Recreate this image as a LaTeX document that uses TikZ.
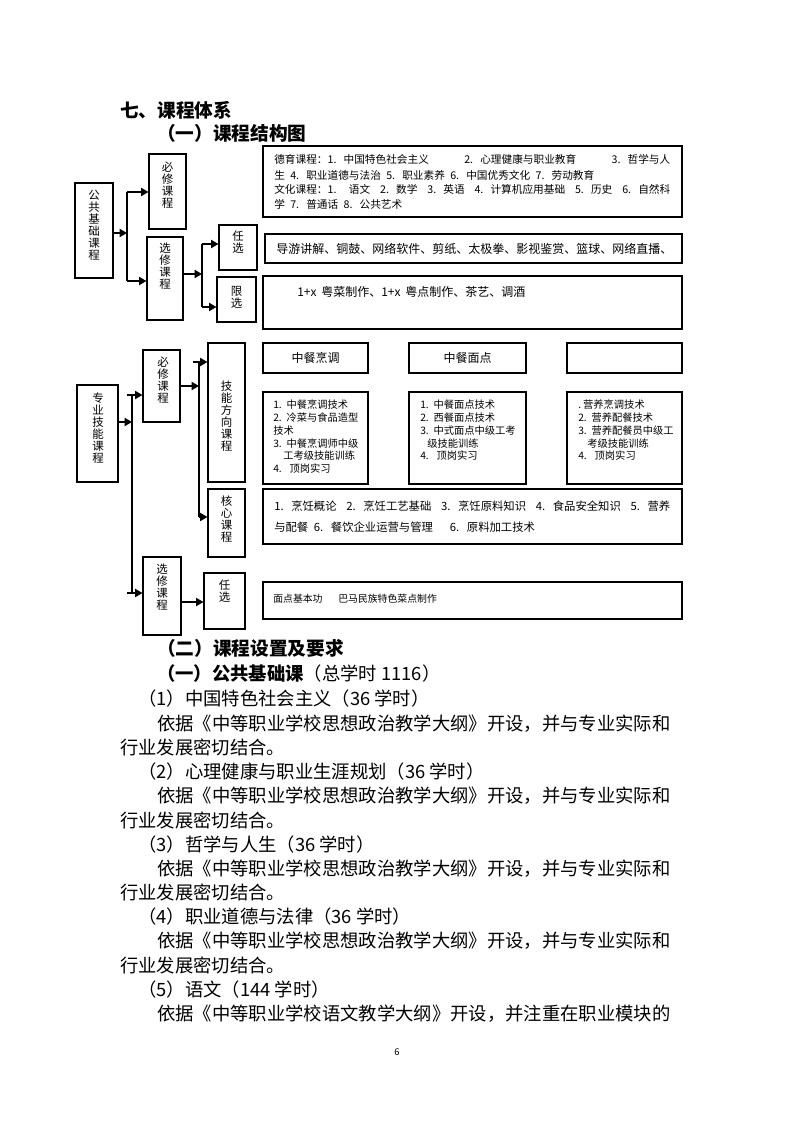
\documentclass[tikz,border=0pt]{standalone}
\usepackage{fontspec}
\setmainfont{Noto Sans CJK SC}
\usetikzlibrary{arrows.meta}
\newcommand\numlab[1]{\makebox[1.5em][l]{#1}}
\newcommand\numlabs[1]{\makebox[1.3em][l]{#1}}
% #1 content, #2 name, #3 x1, #4 y1, #5 x2, #6 y2  (pixel units)
\newcommand\mybox[6][]{\node[box, minimum width={(#5-#3)*0.75pt}, minimum height={(#6-#4)*0.75pt}] (#2) at ({(#3+#5)/2},{(#4+#6)/2}) {#1};}
\tikzset{
  box/.style={draw, line width=0.8pt, inner sep=0pt, font=\fontsize{9}{11}\selectfont},
  vlab/.style={align=center, inner sep=0pt, font=\fontsize{8.6}{9}\selectfont},
  txt/.style={anchor=west, inner sep=0pt, font=\fontsize{8}{10}\selectfont},
  txtm/.style={anchor=west, inner sep=0pt, font=\fontsize{9}{10}\selectfont},
  subt/.style={anchor=west, inner sep=0pt, font=\fontsize{7.7}{9}\selectfont},
  coret/.style={anchor=west, inner sep=0pt, font=\fontsize{8.5}{10}\selectfont},
  smallt/.style={anchor=west, inner sep=0pt, font=\fontsize{7.4}{9}\selectfont},
  body/.style={anchor=west, inner sep=0pt, font=\fontsize{13.75}{16}\selectfont},
  head/.style={anchor=west, inner sep=0pt, font=\fontsize{14}{16}\selectfont\bfseries},
  conn/.style={line width=0.9pt},
  arr/.style={line width=1.3pt, -{Triangle[length=5.5pt,width=6pt]}},
}
\begin{document}
\begin{tikzpicture}[x=0.75pt,y=-0.75pt]
\useasboundingbox (0,0) rectangle (794,1123);
\fill[white] (0,0) rectangle (794,1123);

% headings
\node[head] (h1) at (120,110) {七、课程体系};
\node[head] (h2) at (157,133) {（一）课程结构图};

% ---------- top section ----------
\mybox{gjjc}{75}{183}{113}{278}
\mybox{bx1}{149}{154}{186}{229}
\mybox{xx1}{147}{237}{183}{320}
\mybox{rx1}{219}{225}{257}{270}
\mybox{lx1}{217}{277}{256}{322}
\mybox{t1}{263}{146}{682}{217}
\mybox{t2}{265}{234}{682}{263}
\mybox{t3}{263}{276}{682}{329}

\node[vlab] (l-gjjc) at (94,225) {公\\共\\基\\础\\课\\程};
\node[vlab] (l-bx1) at (167.5,185) {必\\修\\课\\程};
\node[vlab] (l-xx1) at (165,266) {选\\修\\课\\程};
\node[vlab] (l-rx1) at (238,242) {任\\选};
\node[vlab] (l-lx1) at (236.5,297) {限\\选};

\node[txt] (t1a) at (274,159.5) {\makebox[297pt][l]{德育课程：\numlab{1.}中国特色社会主义\hfill\numlab{2.}心理健康与职业教育\hfill\numlab{3.}哲学与人}};
\node[txt] (t1b) at (274,175) {生\hspace{.5em}\numlab{4.}职业道德与法治\hspace{.5em}\numlab{5.}职业素养\hspace{.5em}\numlab{6.}中国优秀文化\hspace{.5em}\numlab{7.}劳动教育};
\node[txt] (t1c) at (274,189.5) {\makebox[297pt][l]{文化课程：\numlab{1.}\hspace{.5em}语文\hfill\numlab{2.}数学\hfill\numlab{3.}英语\hfill\numlab{4.}计算机应用基础\hfill\numlab{5.}历史\hfill\numlab{6.}自然科}};
\node[txt] (t1d) at (274,204) {学\hspace{.5em}\numlab{7.}普通话\hspace{.5em}\numlab{8.}公共艺术};
\node[txtm] (t2a) at (276,249) {导游讲解、铜鼓、网络软件、剪纸、太极拳、影视鉴赏、篮球、网络直播、};
\node[txtm] (t3a) at (297,292) {\makebox[2em][l]{1+x}粤菜制作、\makebox[2em][l]{1+x}粤点制作、茶艺、调酒};

\coordinate (v1t) at (127,192);
\coordinate (v1m) at (127,233);
\coordinate (v1b) at (127,281);
\draw[conn] (v1t) -- (v1b);
\draw[arr] (gjjc.east |- v1m) -- (v1m);
\draw[arr] (v1t) -- (bx1.west |- v1t);
\draw[arr] (v1b) -- (xx1.west |- v1b);
\coordinate (v2t) at (202,244);
\coordinate (v2m) at (202,274);
\coordinate (v2b) at (202,307);
\draw[conn] (v2t) -- (v2b);
\draw[arr] (xx1.east |- v2m) -- (v2m);
\draw[arr] (v2t) -- (rx1.west |- v2t);
\draw[arr] (v2b) -- (lx1.west |- v2b);

% ---------- middle section ----------
\mybox{zyjn}{77}{385}{118}{482}
\mybox{bx2}{143}{350}{180}{422}
\mybox{jnfx}{208}{343}{245}{482}
\mybox{hx}{208}{489}{245}{557}
\mybox{xx2}{143}{557}{181}{635}
\mybox{rx2}{204}{573}{245}{629}
\mybox[中餐烹调]{hA}{263}{343}{368}{373}
\mybox[中餐面点]{hB}{409}{343}{526}{373}
\mybox{hC}{567}{343}{682}{373}
\mybox{sA}{263}{392}{368}{484}
\mybox{sB}{409}{392}{526}{484}
\mybox{sC}{567}{392}{682}{484}
\mybox{core}{263}{489}{682}{544}
\mybox{t4}{263}{582}{682}{619}

\node[vlab] (l-zyjn) at (98,428) {专\\业\\技\\能\\课\\程};
\node[vlab] (l-bx2) at (163,380) {必\\修\\课\\程};
\node[vlab] (l-jnfx) at (226.5,416) {技\\能\\方\\向\\课\\程};
\node[vlab] (l-hx) at (226.5,519) {核\\心\\课\\程};
\node[vlab] (l-xx2) at (162,587) {选\\修\\课\\程};
\node[vlab] (l-rx2) at (224.5,591) {任\\选};

\node[subt] (sA1) at (273,405) {\numlabs{1.}中餐烹调技术};
\node[subt] (sA2) at (273,417.7) {\numlabs{2.}冷菜与食品造型};
\node[subt] (sA3) at (273,430.4) {技术};
\node[subt] (sA4) at (273,443.1) {\numlabs{3.}中餐烹调师中级};
\node[subt] (sA5) at (283,455.8) {工考级技能训练};
\node[subt] (sA6) at (273,468.5) {\makebox[1.6em][l]{4.}顶岗实习};

\node[subt] (sB1) at (420,405) {\numlabs{1.}中餐面点技术};
\node[subt] (sB2) at (420,417.7) {\numlabs{2.}西餐面点技术};
\node[subt] (sB3) at (420,430.4) {\numlabs{3.}中式面点中级工考};
\node[subt] (sB4) at (427,443.1) {级技能训练};
\node[subt] (sB5) at (420,456) {\makebox[1.6em][l]{4.}顶岗实习};

\node[subt] (sC1) at (578,405) {.\hspace{0.2em}营养烹调技术};
\node[subt] (sC2) at (578,417.7) {\numlabs{2.}营养配餐技术};
\node[subt] (sC3) at (578,430.4) {\numlabs{3.}营养配餐员中级工};
\node[subt] (sC4) at (587,443.1) {考级技能训练};
\node[subt] (sC5) at (578,456) {\makebox[1.6em][l]{4.}顶岗实习};

\node[coret] (c1) at (274,506) {\makebox[297pt][l]{\numlab{1.}烹饪概论\hfill\numlab{2.}烹饪工艺基础\hfill\numlab{3.}烹饪原料知识\hfill\numlab{4.}食品安全知识\hfill\numlab{5.}营养}};
\node[coret] (c2) at (274,527) {与配餐\hspace{.5em}\numlab{6.}餐饮企业运营与管理\hspace{1.5em}\numlab{6.}原料加工技术};

\node[smallt] (t4a) at (273,599) {面点基本功};
\node[smallt] (t4b) at (338,599) {巴马民族特色菜点制作};

\coordinate (v3t) at (132,395);
\coordinate (s3t) at (127,395);
\coordinate (v3m) at (132,422);
\coordinate (v3b) at (132,593);
\coordinate (s3b) at (127,593);
\draw[conn] (v3t) -- (v3b);
\draw[arr] (zyjn.east |- v3m) -- (v3m);
\draw[arr] (s3t) -- (bx2.west |- s3t);
\draw[arr] (s3b) -- (xx2.west |- s3b);
\coordinate (v4t) at (199,362);
\coordinate (s4t) at (193,362);
\coordinate (v4m) at (199,386);
\coordinate (v4b) at (199,517);
\draw[conn] (v4t) -- (v4b);
\draw[arr] (bx2.east |- v4m) -- (v4m);
\draw[arr] (s4t) -- (jnfx.west |- s4t);
\draw[arr] (v4b) -- (hx.west |- v4b);
\coordinate (a5) at (190,602);
\draw[arr] (xx2.east |- a5) -- (rx2.west |- a5);

% ---------- body text ----------
\node[head] (h3) at (157,648) {（二）课程设置及要求};
\node[body] (b0) at (157,674) {{\bfseries （一）公共基础课}（总学时 1116）};
\node[body] (b1) at (138,699) {（1）中国特色社会主义（36 学时）};
\node[body] (b2) at (157,723.2) {依据《中等职业学校思想政治教学大纲》开设，并与专业实际和};
\node[body] (b3) at (120,747.4) {行业发展密切结合。};
\node[body] (b4) at (138,771.6) {（2）心理健康与职业生涯规划（36 学时）};
\node[body] (b5) at (157,795.8) {依据《中等职业学校思想政治教学大纲》开设，并与专业实际和};
\node[body] (b6) at (120,820) {行业发展密切结合。};
\node[body] (b7) at (138,844.2) {（3）哲学与人生（36 学时）};
\node[body] (b8) at (157,868.4) {依据《中等职业学校思想政治教学大纲》开设，并与专业实际和};
\node[body] (b9) at (120,892.6) {行业发展密切结合。};
\node[body] (b10) at (138,916.8) {（4）职业道德与法律（36 学时）};
\node[body] (b11) at (157,941) {依据《中等职业学校思想政治教学大纲》开设，并与专业实际和};
\node[body] (b12) at (120,965.2) {行业发展密切结合。};
\node[body] (b13) at (138,989.4) {（5）语文（144 学时）};
\node[body] (b14) at (157,1013.6) {依据《中等职业学校语文教学大纲》开设，并注重在职业模块的};

\node[inner sep=0pt, font=\fontsize{7}{8}\selectfont] (pg) at (397,1052) {6};
\end{tikzpicture}
\end{document}
